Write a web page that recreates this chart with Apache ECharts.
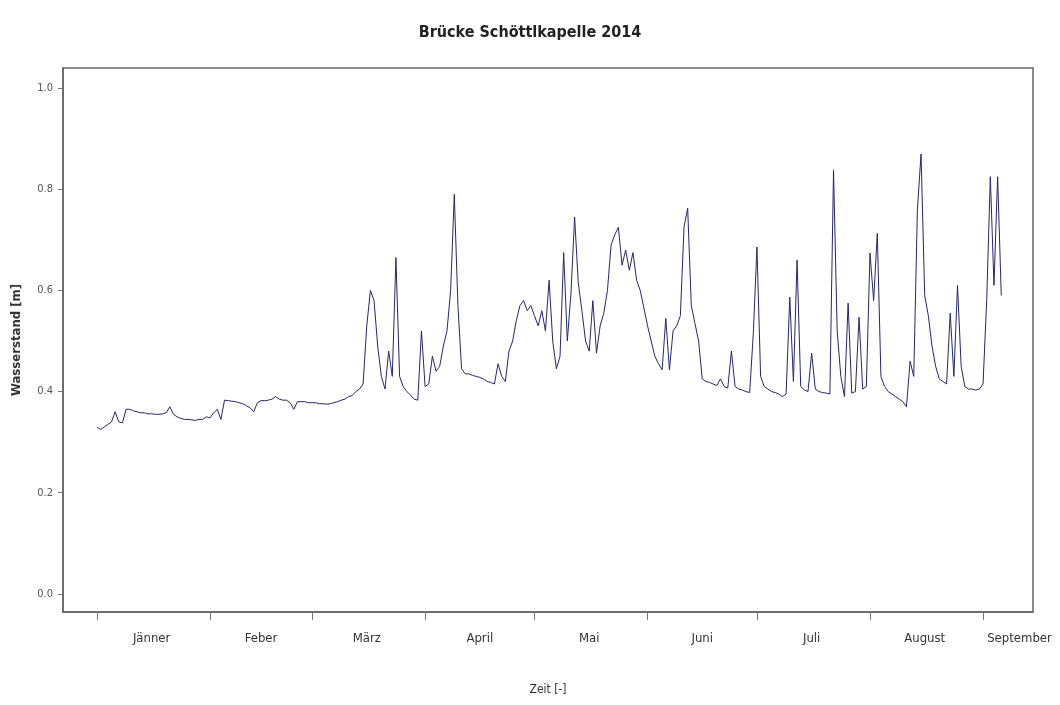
<!DOCTYPE html>
<html>
<head>
<meta charset="utf-8">
<title>Brücke Schöttlkapelle 2014</title>
<script src="https://cdn.jsdelivr.net/npm/echarts@6/dist/echarts.min.js"></script>
<style>
    html, body { margin: 0; padding: 0; background: #fff; }
    #main { width: 1060px; height: 705px; }
</style>
</head>
<body>
<div id="main"></div>
<script>
// Tageswerte Wasserstand [m], Tag 0 = 1. Jänner 2014
var jaenner = [0.33, 0.325, 0.33, 0.335, 0.34, 0.36, 0.34, 0.338, 0.365, 0.365, 0.362, 0.36, 0.358, 0.358, 0.356, 0.356,
    0.355, 0.355, 0.356, 0.358, 0.37, 0.355, 0.35, 0.347, 0.345, 0.345, 0.344, 0.343, 0.345, 0.345, 0.35];
var feber = [0.348, 0.358, 0.365, 0.345, 0.383, 0.382, 0.381, 0.38, 0.378, 0.376, 0.372, 0.368, 0.36, 0.378,
    0.382, 0.382, 0.383, 0.385, 0.39, 0.385, 0.383, 0.383, 0.378, 0.365, 0.38, 0.38, 0.38, 0.378];
var maerz = [0.378, 0.378, 0.376, 0.376, 0.375, 0.376, 0.378, 0.38, 0.383, 0.385, 0.39, 0.392, 0.40, 0.405, 0.415,
    0.53, 0.60, 0.58, 0.49, 0.43, 0.405, 0.48, 0.43, 0.665, 0.43, 0.41, 0.40, 0.393, 0.385, 0.383, 0.52];
var april = [0.41, 0.415, 0.47, 0.44, 0.45, 0.49, 0.52, 0.60, 0.79, 0.57, 0.445, 0.435, 0.435, 0.432, 0.43,
    0.428, 0.425, 0.42, 0.418, 0.415, 0.455, 0.43, 0.42, 0.48, 0.50, 0.54, 0.57, 0.58, 0.56, 0.57];
var mai = [0.55, 0.53, 0.56, 0.52, 0.62, 0.50, 0.445, 0.47, 0.675, 0.50, 0.595, 0.745, 0.615, 0.56, 0.50, 0.48,
    0.58, 0.476, 0.53, 0.555, 0.60, 0.69, 0.71, 0.725, 0.65, 0.68, 0.64, 0.675, 0.62, 0.60, 0.565];
var juni = [0.53, 0.50, 0.47, 0.455, 0.443, 0.545, 0.443, 0.52, 0.53, 0.55, 0.725, 0.763, 0.57, 0.535, 0.50,
    0.425, 0.42, 0.418, 0.415, 0.412, 0.425, 0.41, 0.407, 0.48, 0.41, 0.405, 0.403, 0.40, 0.398, 0.515];
var juli = [0.686, 0.43, 0.41, 0.405, 0.40, 0.398, 0.395, 0.39, 0.395, 0.587, 0.42, 0.66, 0.41, 0.403, 0.40, 0.476,
    0.405, 0.40, 0.398, 0.397, 0.395, 0.838, 0.52, 0.43, 0.39, 0.575, 0.397, 0.40, 0.547, 0.405, 0.41];
var august = [0.674, 0.58, 0.713, 0.43, 0.41, 0.40, 0.395, 0.39, 0.385, 0.38, 0.37, 0.46, 0.43, 0.76, 0.87, 0.59,
    0.55, 0.49, 0.45, 0.425, 0.42, 0.415, 0.555, 0.43, 0.61, 0.45, 0.41, 0.405, 0.405, 0.403, 0.405];
var september = [0.415, 0.58, 0.825, 0.61, 0.825, 0.59];

var monate = ['Jänner', 'Feber', 'März', 'April', 'Mai', 'Juni', 'Juli', 'August', 'September'];
var monatsBeginn = [0, 31, 59, 90, 120, 151, 181, 212, 243];   // Striche an der Zeitachse
var labelTag = [15, 45, 74, 105, 135, 166, 196, 227, 253];     // Lage der Monatsnamen
var yTicks = [0, 0.2, 0.4, 0.6, 0.8, 1.0];

var schrift = "'Liberation Sans Narrow', 'DejaVu Sans Condensed', 'Liberation Sans', sans-serif";

// Tageswerte zu [Tag, Wert] zusammensetzen
var daten = [];
[jaenner, feber, maerz, april, mai, juni, juli, august, september].forEach(function (m, i) {
    for (var k = 0; k < m.length; k++) {
        daten.push([monatsBeginn[i] + k, m[k]]);
    }
});

var myChart = echarts.init(document.getElementById('main'));

var option = {
    backgroundColor: '#fff',
    animation: false,
    title: {
        text: 'Brücke Schöttlkapelle 2014',
        left: 'center',
        top: 20,
        textStyle: {
            fontFamily: schrift,
            fontSize: 16,
            fontWeight: 'bold',
            color: '#222'
        }
    },
    grid: {
        left: 63,
        right: 27,
        top: 68,
        bottom: 93,
        show: true,
        borderColor: '#666',
        borderWidth: 1.5
    },
    xAxis: {
        type: 'value',
        min: -9.3,
        max: 256.7,
        name: 'Zeit [-]',
        nameLocation: 'middle',
        nameGap: 72,
        nameTextStyle: { fontFamily: schrift, fontSize: 12, color: '#333' },
        axisLine: { show: true, onZero: false, lineStyle: { color: '#666', width: 1.5 } },
        axisTick: {
            show: true,
            length: 8,
            customValues: monatsBeginn,
            lineStyle: { color: '#777' }
        },
        axisLabel: {
            customValues: labelTag,
            margin: 20,
            fontFamily: schrift,
            fontSize: 13,
            color: '#333',
            formatter: function (v) {
                var i = labelTag.indexOf(v);
                return i >= 0 ? monate[i] : '';
            }
        },
        splitLine: { show: false }
    },
    yAxis: {
        type: 'value',
        min: -0.036,
        max: 1.04,
        name: 'Wasserstand [m]',
        nameLocation: 'middle',
        nameGap: 40,
        nameTextStyle: { fontFamily: schrift, fontSize: 13, fontWeight: 'bold', color: '#333' },
        axisLine: { show: true, onZero: false, lineStyle: { color: '#666', width: 1.5 } },
        axisTick: {
            show: true,
            length: 5,
            customValues: yTicks,
            lineStyle: { color: '#777' }
        },
        axisLabel: {
            customValues: yTicks,
            margin: 10,
            fontFamily: schrift,
            fontSize: 11,
            color: '#555',
            formatter: function (v) { return v.toFixed(1); }
        },
        splitLine: { show: false }
    },
    series: [{
        name: 'Wasserstand',
        type: 'line',
        data: daten,
        showSymbol: false,
        symbol: 'none',
        lineStyle: { color: '#26266e', width: 1 }
    }]
};

myChart.setOption(option);
</script>
</body>
</html>
